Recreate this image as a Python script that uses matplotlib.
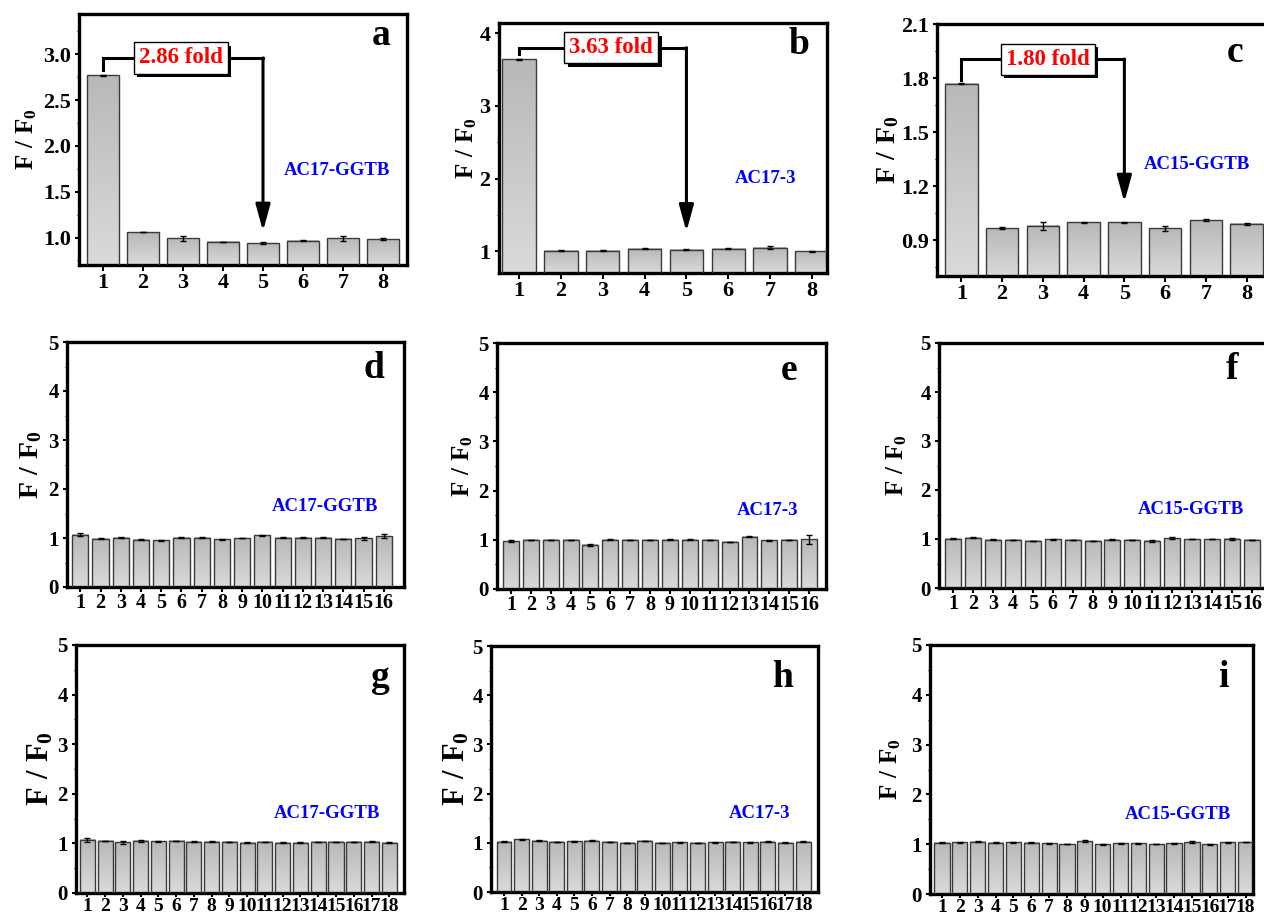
import numpy as np
import matplotlib
matplotlib.use("Agg")
import matplotlib.pyplot as plt
from matplotlib.colors import LinearSegmentedColormap
from matplotlib.ticker import AutoMinorLocator
import matplotlib.patheffects as pe

plt.rcParams['font.family'] = ['Liberation Serif', 'DejaVu Serif']
plt.rcParams['font.weight'] = 'bold'
plt.rcParams['mathtext.fontset'] = 'custom'
plt.rcParams['mathtext.rm'] = 'Liberation Serif:bold'
plt.rcParams['mathtext.bf'] = 'Liberation Serif:bold'
plt.rcParams['mathtext.it'] = 'Liberation Serif:bold'

# ---- data ----
a_vals = [2.77, 1.058, 0.99, 0.953, 0.94, 0.965, 0.99, 0.98]
a_err = [0.004, 0.003, 0.03, 0.003, 0.015, 0.003, 0.03, 0.01]
b_vals = [3.64, 1.005, 1.008, 1.037, 1.02, 1.035, 1.05, 1.0]
b_err = [0.01, 0.006, 0.005, 0.005, 0.006, 0.005, 0.025, 0.005]
c_vals = [1.767, 0.965, 0.978, 0.998, 0.998, 0.965, 1.011, 0.989]
c_err = [0.003, 0.005, 0.02, 0.004, 0.004, 0.013, 0.004, 0.005]

d_vals = [1.07, 0.986, 1.01, 0.966, 0.953, 1.007, 1.007, 0.973,
          1.0, 1.054, 1.01, 1.01, 1.01, 0.98, 0.99, 1.04]
d_err = [0.03, 0.008, 0.005, 0.006, 0.008, 0.006, 0.006, 0.006,
         0.01, 0.01, 0.008, 0.008, 0.015, 0.006, 0.04, 0.035]
e_vals = [0.97, 1.0, 1.0, 1.0, 0.9, 1.0, 1.0, 1.0,
          1.0, 1.0, 1.0, 0.96, 1.06, 0.99, 1.0, 1.01]
e_err = [0.02, 0.006, 0.004, 0.004, 0.02, 0.008, 0.006, 0.006,
         0.008, 0.008, 0.006, 0.005, 0.008, 0.006, 0.006, 0.095]
f_vals = [1.008, 1.025, 0.985, 0.98, 0.965, 0.99, 0.985, 0.96,
          0.985, 0.985, 0.965, 1.02, 1.0, 1.0, 1.005, 0.98]
f_err = [0.006, 0.01, 0.008, 0.008, 0.004, 0.006, 0.004, 0.006,
         0.006, 0.004, 0.02, 0.015, 0.006, 0.006, 0.025, 0.004]

g_vals = [1.07, 1.05, 1.023, 1.056, 1.043, 1.05, 1.036, 1.036, 1.03,
          1.016, 1.03, 1.016, 1.016, 1.03, 1.03, 1.03, 1.036, 1.016]
g_err = [0.035, 0.005, 0.03, 0.02, 0.006, 0.005, 0.004, 0.008, 0.005,
         0.004, 0.005, 0.004, 0.004, 0.005, 0.005, 0.006, 0.008, 0.004]
h_vals = [1.024, 1.07, 1.045, 1.018, 1.03, 1.045, 1.018, 0.997, 1.038,
          0.997, 1.01, 0.997, 1.01, 1.018, 1.01, 1.024, 1.004, 1.024]
h_err = [0.006, 0.01, 0.006, 0.004, 0.006, 0.006, 0.004, 0.004, 0.008,
         0.006, 0.004, 0.006, 0.004, 0.006, 0.004, 0.006, 0.006, 0.006]
i_vals = [1.03, 1.037, 1.05, 1.03, 1.037, 1.03, 1.017, 1.004, 1.064,
          0.997, 1.017, 1.017, 1.004, 1.017, 1.044, 0.997, 1.037, 1.044]
i_err = [0.006, 0.012, 0.008, 0.006, 0.006, 0.01, 0.008, 0.006, 0.012,
         0.015, 0.005, 0.008, 0.004, 0.008, 0.012, 0.01, 0.01, 0.006]

letters = ['a', 'b', 'c', 'd', 'e', 'f', 'g', 'h', 'i']
samples = ['AC17-GGTB', 'AC17-3', 'AC15-GGTB'] * 3
fold_labels = ['2.86 fold', '3.63 fold', '1.80 fold']

all_vals = [a_vals, b_vals, c_vals, d_vals, e_vals, f_vals, g_vals, h_vals, i_vals]
all_err = [a_err, b_err, c_err, d_err, e_err, f_err, g_err, h_err, i_err]

# ---- layout ----
W, H = 1264, 917
# left, right, top, bottom in pixels
boxes = [(79, 407, 14, 265), (499, 827, 23, 273), (937, 1271, 24, 276),
         (67, 404, 342, 587), (497, 826, 343, 589), (939, 1269, 343, 588),
         (76, 404, 645, 893), (491, 818, 646, 892), (930, 1253, 645, 894)]
xlims = [(0.4, 8.6), (0.52, 8.36), (0.4, 8.6),
         (0.34, 17.0), (0.3, 16.85), (0.3, 16.85),
         (0.36, 18.83), (0.26, 18.85), (0.33, 18.42)]
ylims = [(0.7, 3.44), (0.7, 4.14), (0.7, 2.1)] + [(0, 5)] * 6
yticks = [[1.0, 1.5, 2.0, 2.5, 3.0], [1, 2, 3, 4], [0.9, 1.2, 1.5, 1.8, 2.1]] + [[0, 1, 2, 3, 4, 5]] * 6
yfmt = ['%.1f', '%d', '%.1f'] + ['%d'] * 6
ylabel_px = [27, 467, 888, 31, 463, 897, 41, 457, 891]
ylabel_fs = [18, 18, 20, 20, 18, 18, 22, 22, 18]
letter_pos = [(7.95, 3.2), (7.7, 3.85), (7.72, 1.94),
              (15.5, 4.45), (15.0, 4.45), (14.97, 4.45),
              (17.5, 4.35), (16.85, 4.35), (16.75, 4.35)]
sample_pos = [(6.85, 1.73), (6.9, 2.0), (6.77, 1.32),
              (13.1, 1.64), (13.9, 1.6), (12.96, 1.6),
              (14.5, 1.6), (15.5, 1.6), (14.2, 1.6)]
# bracket: start y, top y, arrow tip y, box centre x
brackets = [(2.83, 2.96, 1.07, 2.95), (3.72, 3.80, 1.27, 3.2), (1.79, 1.905, 1.11, 3.12)]
xtick_fs = [16, 16, 16, 14.5, 14.5, 14.5, 14, 14, 14]
xtick_len = [4, 4, 4, 3.5, 3.5, 3.5, 3, 3, 3]
xtick_pad = [2, 2, 2, 1, 1, 1, 0.5, 0.5, 0.5]
ytick_fs = [16, 16, 16, 15, 15, 15, 15, 15, 15]

cmap = LinearSegmentedColormap.from_list('bar', ['#dadada', '#b8b8b8'])
grad = np.linspace(0, 1, 256).reshape(-1, 1)

fig = plt.figure(figsize=(W / 100, H / 100), dpi=100)

for k in range(9):
    l, r, t, b = boxes[k]
    ax = fig.add_axes([l / W, 1 - b / H, (r - l) / W, (b - t) / H])
    vals = all_vals[k]
    x = np.arange(1, len(vals) + 1)
    width = 0.8 if k < 6 else 0.85
    bars = ax.bar(x, vals, width, color='none', edgecolor='#3a3a3a', linewidth=1.0, zorder=3)
    ax.errorbar(x, vals, yerr=all_err[k], fmt='none', ecolor='black', elinewidth=1,
                capsize=2.5, capthick=1, zorder=4)
    ybot = ylims[k][0]
    for bar in bars:
        x0 = bar.get_x()
        ax.imshow(grad, extent=[x0, x0 + bar.get_width(), ybot, bar.get_height()],
                  origin='lower', aspect='auto', cmap=cmap, vmin=0, vmax=1, zorder=2)
    ax.set_xlim(*xlims[k])
    ax.set_ylim(*ylims[k])
    ax.set_aspect('auto')

    ax.set_xticks(x)
    ax.set_xticklabels([str(v) for v in x], fontsize=xtick_fs[k], fontweight='bold')
    ax.set_yticks(yticks[k])
    ax.set_yticklabels([yfmt[k] % v for v in yticks[k]], fontsize=ytick_fs[k], fontweight='bold')
    ax.yaxis.set_minor_locator(AutoMinorLocator(2))
    ax.tick_params(which='major', direction='out', width=1.5)
    ax.tick_params(axis='y', which='major', length=3, pad=3)
    ax.tick_params(axis='x', which='major', length=xtick_len[k], pad=xtick_pad[k])
    ax.tick_params(which='minor', direction='out', length=1.5, width=1)
    for s in ax.spines.values():
        s.set_linewidth(2.4)

    ax.set_ylabel(r'$\mathbf{F\ /\ F_0}$', fontsize=ylabel_fs[k], va='center')
    ax.yaxis.set_label_coords((ylabel_px[k] - l) / (r - l), 0.5)

    ax.text(*letter_pos[k], letters[k], fontsize=27, fontweight='bold', ha='center', va='center')
    ax.text(*sample_pos[k], samples[k], fontsize=13.5, fontweight='bold', color='#0000ff',
            ha='center', va='center')

    if k < 3:
        y0, ytop, ytip, bx = brackets[k]
        ax.plot([1, 1, 5], [y0, ytop, ytop], color='black', lw=2.2, solid_joinstyle='miter', zorder=5)
        ax.annotate('', xy=(5, ytip), xytext=(5, ytop),
                    arrowprops=dict(arrowstyle='-|>,head_length=0.8,head_width=0.22',
                                    mutation_scale=20, lw=2.2, color='black',
                                    shrinkA=0, shrinkB=0), zorder=5)
        txt = ax.text(bx, ytop, fold_labels[k], fontsize=16.5, fontweight='bold', color='red',
                      ha='center', va='center', zorder=7,
                      bbox=dict(boxstyle='square,pad=0.22', fc='white', ec='black', lw=1))
        txt.get_bbox_patch().set_path_effects([
            pe.SimplePatchShadow(offset=(2.5, -2.5), shadow_rgbFace='black', alpha=1.0),
            pe.Normal()])

fig.savefig('out.png', dpi=100)
